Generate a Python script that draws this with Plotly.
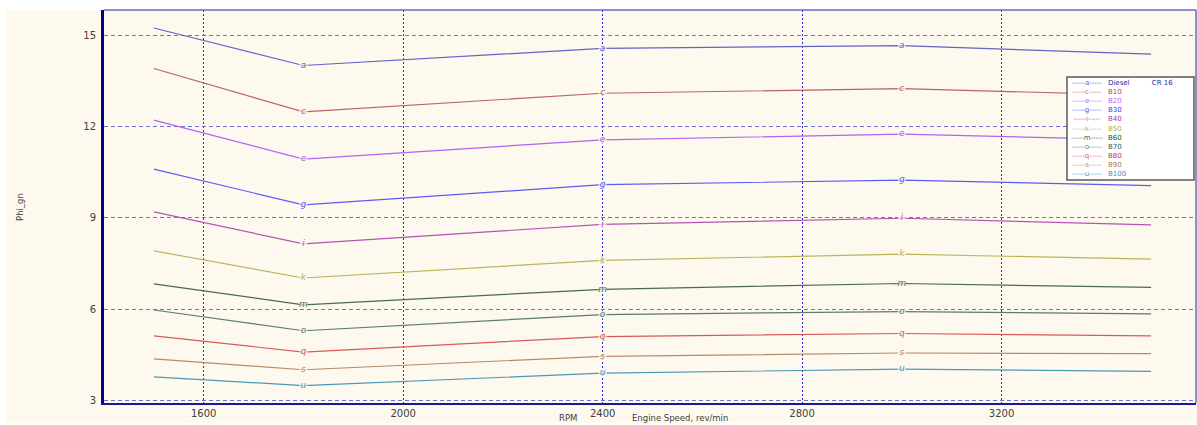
import plotly.graph_objects as go

rpm = [1500, 1800, 2400, 3000, 3500]

series_names = ["Diesel\u00a0\u00a0\u00a0\u00a0\u00a0\u00a0\u00a0\u00a0\u00a0\u00a0CR 16", "B10", "B20", "B30", "B40",
                "B50", "B60", "B70", "B80", "B90", "B100"]
series_letters = ["a", "c", "e", "g", "i", "k", "m", "o", "q", "s", "u"]

diesel = [15.23, 14.00, 14.56, 14.65, 14.37]
b10 = [13.90, 12.48, 13.09, 13.24, 13.02]
b20 = [12.21, 10.93, 11.56, 11.75, 11.55]
b30 = [10.60, 9.43, 10.09, 10.24, 10.06]
b40 = [9.20, 8.15, 8.79, 8.99, 8.77]
b50 = [7.92, 7.03, 7.61, 7.81, 7.65]
b60 = [6.84, 6.15, 6.66, 6.85, 6.72]
b70 = [5.98, 5.30, 5.83, 5.93, 5.85]
b80 = [5.13, 4.60, 5.11, 5.21, 5.13]
b90 = [4.38, 4.02, 4.46, 4.57, 4.55]
b100 = [3.79, 3.50, 3.91, 4.04, 3.97]

series_values = [diesel, b10, b20, b30, b40, b50, b60, b70, b80, b90, b100]

line_colors = ["#6464c4", "#b86464", "#b462f2", "#5c5cf4", "#b452b4", "#bcb45a",
               "#4a6c4a", "#5a7c74", "#d85a5a", "#b88a64", "#4c96b8"]
legend_colors = ["#2a2a9c", "#b04848", "#c064ff", "#3c3cff", "#b034b4", "#b0b034",
                 "#245224", "#2e6060", "#d03434", "#b07444", "#3494c4"]

bg = "#fdf9ee"

x_range = [1400, 3590]
y_range = [2.93, 15.82]
x_ticks = [1600, 2000, 2400, 2800, 3200]
y_ticks = [3, 6, 9, 12, 15]

fig = go.Figure()

for name, letter, vals, lc in zip(series_names, series_letters, series_values, line_colors):
    texts = [letter if i not in (0, len(rpm) - 1) else "" for i in range(len(rpm))]
    sizes = [0 if t == "" else 8 for t in texts]
    fig.add_trace(go.Scatter(
        x=rpm, y=vals, mode="lines+markers+text", name=name,
        line=dict(color=lc, width=1.2),
        marker=dict(symbol="square", size=sizes, color=bg, line=dict(width=0)),
        text=texts, textposition="middle center",
        textfont=dict(family="DejaVu Sans", size=9, color=lc, style="italic"),
        showlegend=False, hoverinfo="x+y",
    ))

# Plot geometry in pixels (for placing the custom legend box)
L, R, T, B = 104, 1196, 10, 403
W, H = R - L, B - T

def px(xp):
    return (xp - L) / W

def py(yp):
    return (B - yp) / H

shapes = [
    dict(type="rect", xref="paper", yref="paper", x0=px(6), x1=px(1200), y0=py(423), y1=py(10),
         fillcolor=bg, line=dict(width=0), layer="below"),
    dict(type="line", xref="paper", yref="paper", x0=0, x1=1, y0=1, y1=1,
         line=dict(color="#6a6ac4", width=1.5)),
    dict(type="line", xref="paper", yref="paper", x0=1, x1=1, y0=0, y1=1,
         line=dict(color="#6a6ac4", width=1.5)),
    dict(type="rect", xref="paper", yref="paper", x0=px(1067), x1=px(1194), y0=py(180), y1=py(77),
         fillcolor="white", line=dict(color="#5a5a5a", width=1.5)),
]

sample_lines = "<br>".join(
    f"<span style='color:{lc}'>-----{lt}-----</span>" for lt, lc in zip(series_letters, line_colors))
label_lines = "<br>".join(
    f"<span style='color:{tc}'>{nm}</span>" for nm, tc in zip(series_names, legend_colors))

legend_center = py(128.5)
annotations = [
    dict(xref="paper", yref="paper", x=px(1087), y=legend_center, text=sample_lines,
         showarrow=False, xanchor="center", yanchor="middle", align="center",
         font=dict(family="DejaVu Sans", size=7, color="#404040")),
    dict(xref="paper", yref="paper", x=px(1106), y=legend_center, text=label_lines,
         showarrow=False, xanchor="left", yanchor="middle", align="left",
         font=dict(family="DejaVu Sans", size=7, color="#404040")),
    dict(xref="paper", yref="paper", x=px(20), y=py(207), text="Phi_gn", textangle=-90,
         showarrow=False, xanchor="center", yanchor="middle",
         font=dict(family="DejaVu Sans", size=8.5, color="#404040")),
    dict(xref="paper", yref="paper", x=px(568), y=py(418), text="RPM",
         showarrow=False, xanchor="center", yanchor="middle",
         font=dict(family="DejaVu Sans", size=8.5, color="#404040")),
    dict(xref="paper", yref="paper", x=px(680), y=py(418), text="Engine Speed, rev/min",
         showarrow=False, xanchor="center", yanchor="middle",
         font=dict(family="DejaVu Sans", size=8.5, color="#404040")),
]

fig.update_layout(
    width=1197, height=425,
    margin=dict(l=L, r=1197 - R, t=T, b=425 - B, pad=0),
    paper_bgcolor="white", plot_bgcolor=bg,
    showlegend=False,
    shapes=shapes, annotations=annotations,
    xaxis=dict(range=x_range, tickvals=x_ticks, ticktext=[str(v) for v in x_ticks],
               showgrid=True, gridcolor="#2a2ad0", griddash="2px,2px", gridwidth=1,
               zeroline=False, showline=True, linecolor="#1a1a8c", linewidth=2,
               ticks="",
               tickfont=dict(family="DejaVu Sans", size=10, color="#404040")),
    yaxis=dict(range=y_range, tickvals=y_ticks, ticktext=[str(v) for v in y_ticks],
               showgrid=True, gridcolor="#7070d4", griddash="4px,3px", gridwidth=1,
               zeroline=False, showline=True, linecolor="#000088", linewidth=3,
               ticks="outside", ticklen=3, tickcolor="rgba(0,0,0,0)",
               tickfont=dict(family="DejaVu Sans", size=10, color="#404040")),
)

fig.write_html("out.html")
